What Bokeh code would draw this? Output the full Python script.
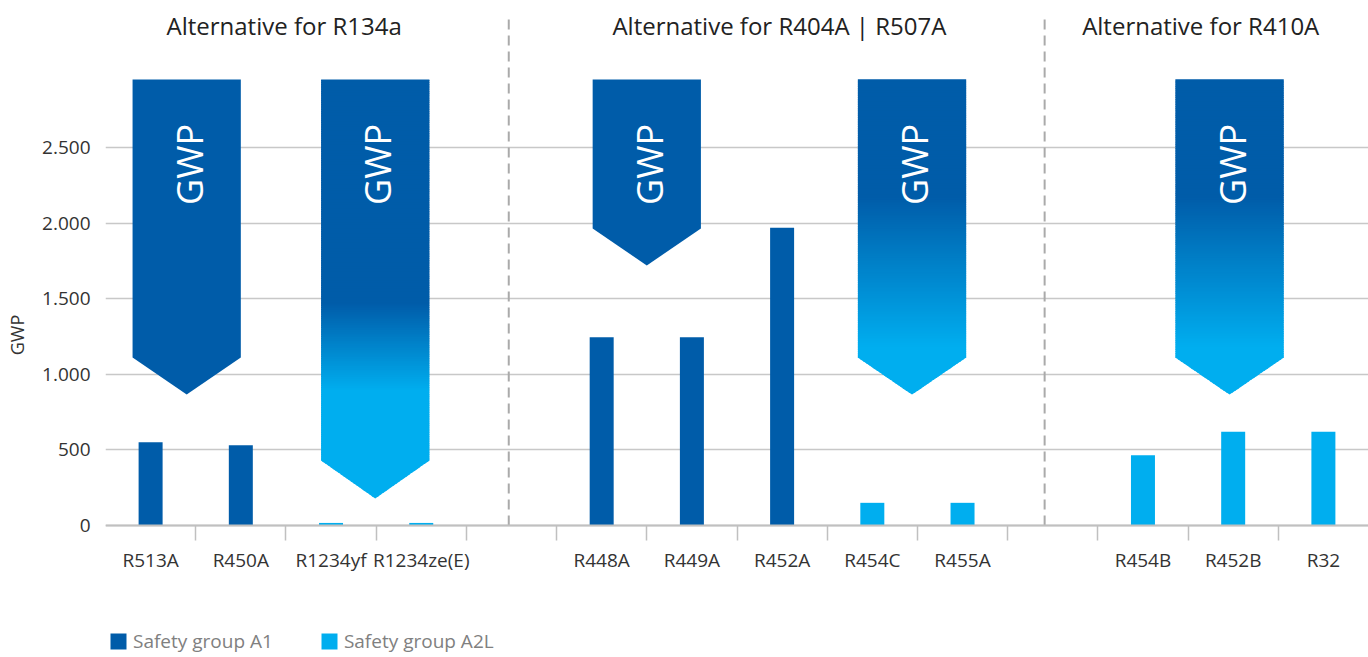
import math
from bokeh.plotting import figure
from bokeh.models import (Range1d, FixedTicker, Legend, LegendItem, ColumnDataSource)
from bokeh.core.properties import value
from bokeh.embed import file_html
from bokeh.resources import INLINE

# ---------------- data ----------------
slots = ["R513A", "R450A", "R1234yf", "R1234ze(E)", "",
         "R448A", "R449A", "R452A", "R454C", "R455A", "",
         "R454B", "R452B", "R32"]
gwp = [550, 530, 17, 17, None,
       1245, 1245, 1970, 150, 150, None,
       465, 620, 620]
group = ["A1", "A1", "A2L", "A2L", None,
         "A1", "A1", "A1", "A2L", "A2L", None,
         "A2L", "A2L", "A2L"]

y_ticks = [0, 500, 1000, 1500, 2000, 2500]
y_tick_labels = ["0", "500", "1.000", "1.500", "2.000", "2.500"]

titles = ["Alternative for R134a", "Alternative for R404A | R507A", "Alternative for R410A"]
title_x = [1.98, 7.47, 12.14]
title_y = [3305, 3305, 3305]

divider_x = [4.47, 10.41]

arrow_x = [0.90, 2.99, 6.0, 8.94, 12.46]
arrow_top = [2950, 2950, 2950, 2950, 2950]
arrow_shaft = [1111, 430, 1964, 1111, 1111]
arrow_tip = [866, 179, 1720, 866, 866]
grad_start = [None, 1470, None, 2170, 2170]
grad_end = [None, 890, None, 1180, 1180]
arrow_halfwidth = 0.6
arrow_label_y = 2388

legend_labels = ["Safety group A1", "Safety group A2L"]

DARK = (0, 92, 169)
LIGHT = (0, 174, 239)
DARK_HEX = "#005ca9"
LIGHT_HEX = "#00aeef"
FONT = "Open Sans"

# ---------------- figure ----------------
# frame spans the full height; the x axis is pinned at GWP = 0 inside it
p = figure(width=1368, height=657, output_backend="svg", toolbar_location=None,
           x_range=Range1d(0, 14), y_range=Range1d(-873, 3393),
           min_border_left=105, min_border_right=0, min_border_top=12,
           min_border_bottom=0)
p.outline_line_color = None
p.xgrid.grid_line_color = None
p.ygrid.grid_line_color = "#c8c8c8"
p.ygrid.grid_line_width = 1.5

# y axis
p.yaxis.ticker = FixedTicker(ticks=y_ticks)
p.yaxis.major_label_overrides = {t: l for t, l in zip(y_ticks, y_tick_labels)}
p.yaxis.axis_line_color = None
p.yaxis.major_tick_line_color = None
p.yaxis.minor_tick_line_color = None
p.yaxis.major_tick_out = 0
p.yaxis.major_tick_in = 0
p.yaxis.major_label_text_font = FONT
p.yaxis.major_label_text_font_size = "19px"
p.yaxis.major_label_text_color = "#333333"
p.yaxis.major_label_standoff = 15
p.yaxis.axis_label = "GWP"
p.yaxis.axis_label_text_font = FONT
p.yaxis.axis_label_text_font_size = "18px"
p.yaxis.axis_label_text_font_style = "normal"
p.yaxis.axis_label_text_color = "#333333"
p.yaxis.axis_label_standoff = 10

# x axis
centers = [i + 0.5 for i, s in enumerate(slots) if s]
p.xaxis.fixed_location = 0
p.xaxis.ticker = FixedTicker(ticks=centers, minor_ticks=list(range(1, len(slots))))
p.xaxis.major_label_overrides = {i + 0.5: s for i, s in enumerate(slots) if s}
p.xaxis.axis_line_color = "#c0c0c0"
p.xaxis.axis_line_width = 2
p.xaxis.major_tick_line_color = None
p.xaxis.major_tick_out = 0
p.xaxis.major_tick_in = 0
p.xaxis.minor_tick_line_color = "#c0c0c0"
p.xaxis.minor_tick_line_width = 1.5
p.xaxis.minor_tick_out = 15
p.xaxis.minor_tick_in = 0
p.xaxis.major_label_text_font = FONT
p.xaxis.major_label_text_font_size = "19px"
p.xaxis.major_label_text_color = "#333333"
p.xaxis.major_label_standoff = 6

# ---------------- arrows (gradient bands) ----------------
def lerp_color(t):
    t = max(0.0, min(1.0, t))
    r = [round(DARK[k] + (LIGHT[k] - DARK[k]) * t) for k in range(3)]
    return "#%02x%02x%02x" % tuple(r)

xs_all, ys_all, col_all = [], [], []
for cx, top, shaft, tip, gs, ge in zip(arrow_x, arrow_top, arrow_shaft, arrow_tip,
                                        grad_start, grad_end):
    def hw(y):
        if y >= shaft:
            return arrow_halfwidth
        return arrow_halfwidth * (y - tip) / (shaft - tip)

    if gs is None:
        xs_all.append([cx, cx + hw(shaft), cx + hw(top), cx - hw(top), cx - hw(shaft)])
        ys_all.append([tip, shaft, top, top, shaft])
        col_all.append(DARK_HEX)
        continue
    step = 12.0
    edges = [tip]
    y = tip
    while y < top:
        ny = min(top, y + step)
        if y < shaft < ny:
            ny = shaft
        edges.append(ny)
        y = ny
    for y0, y1 in zip(edges[:-1], edges[1:]):
        ym = 0.5 * (y0 + y1)
        c = lerp_color((gs - ym) / (gs - ge))
        y1o = min(top, y1 + 8.0)
        if y0 < shaft < y1o:
            px = [cx - hw(y0), cx + hw(y0), cx + hw(shaft), cx + hw(y1o),
                  cx - hw(y1o), cx - hw(shaft)]
            py = [y0, y0, shaft, y1o, y1o, shaft]
        else:
            px = [cx - hw(y0), cx + hw(y0), cx + hw(y1o), cx - hw(y1o)]
            py = [y0, y0, y1o, y1o]
        xs_all.append(px)
        ys_all.append(py)
        col_all.append(c)

p.patches(xs=xs_all, ys=ys_all, fill_color=col_all, line_color=None)

p.text(x=[ax + 0.03 for ax in arrow_x], y=[arrow_label_y] * len(arrow_x),
       text=["GWP"] * len(arrow_x), angle=math.pi / 2,
       text_font=value(FONT), text_font_size="36px", text_color="white",
       text_align="center", text_baseline="middle")

# ---------------- dividers and titles ----------------
p.segment(x0=divider_x, y0=[0] * len(divider_x), x1=divider_x, y1=[3370] * len(divider_x),
          line_color="#aaaaaa", line_width=2, line_dash="10 6")

p.text(x=title_x, y=title_y, text=titles, text_font=value(FONT),
       text_font_size="24px", text_color="#222222",
       text_align="center", text_baseline="middle")

# ---------------- bars ----------------
def subset(g):
    xs = [i + 0.5 for i, gg in enumerate(group) if gg == g]
    ys = [gwp[i] for i, gg in enumerate(group) if gg == g]
    return ColumnDataSource(dict(x=xs, top=ys))

r_a1 = p.vbar(x="x", top="top", width=0.266, source=subset("A1"),
              fill_color=DARK_HEX, line_color=None)
r_a2l = p.vbar(x="x", top="top", width=0.266, source=subset("A2L"),
               fill_color=LIGHT_HEX, line_color=None)

legend = Legend(items=[LegendItem(label=legend_labels[0], renderers=[r_a1]),
                       LegendItem(label=legend_labels[1], renderers=[r_a2l])],
                location=(3, 3), orientation="horizontal",
                glyph_width=20, glyph_height=20, label_height=20,
                label_standoff=5, spacing=46, padding=0, margin=0,
                label_text_font=FONT, label_text_font_size="19px",
                label_text_color="#808080",
                border_line_alpha=0, background_fill_alpha=0)
p.add_layout(legend)

open("out.html", "w").write(file_html(p, INLINE))
